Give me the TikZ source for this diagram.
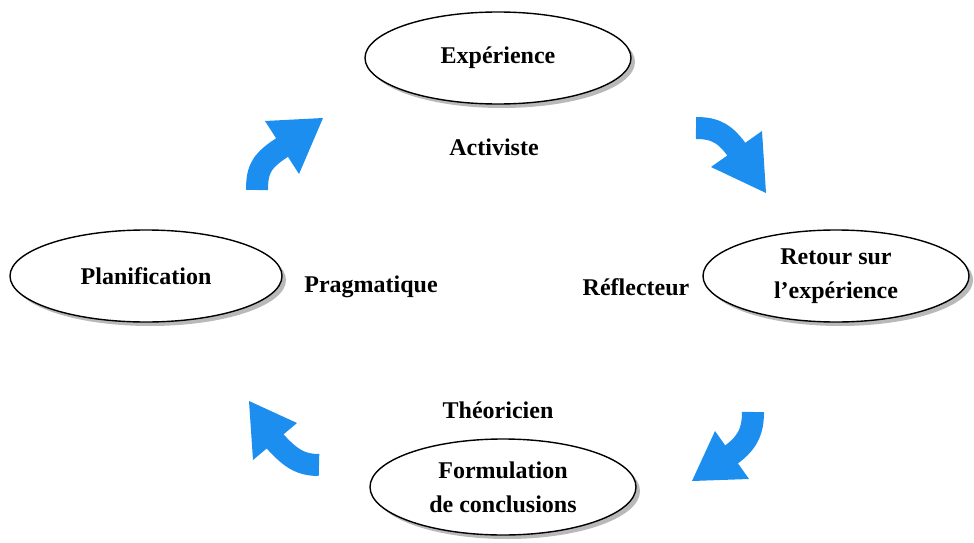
\documentclass[tikz,border=0pt]{standalone}
\usepackage{fontspec}
\setmainfont{Liberation Serif}
\usetikzlibrary{shapes.geometric,shadows}
\definecolor{cycleblue}{RGB}{28,142,240}
\begin{document}
\begin{tikzpicture}[x=1pt, y=-1pt,
  phase/.style={draw=black, line width=1.4pt, fill=white, ellipse, inner sep=0pt,
    minimum width=266pt, minimum height=92pt, align=center,
    drop shadow={shadow xshift=4pt, shadow yshift=-4pt, fill=black!55},
    font={\fontsize{24}{34}\selectfont\bfseries}},
  role/.style={font={\fontsize{24}{30}\selectfont\bfseries}},
  shaft/.style={draw=cycleblue, line width=22pt},
  head/.style={fill=cycleblue}]

\useasboundingbox (0,0) rectangle (974,543);

% the four phases
\node at (498,58) [phase] (exp) {Exp\'erience};
\node at (146,276) [phase, minimum width=272pt] (plan) {Planification};
\node at (836,276) [phase] (retour) {Retour sur\\l’exp\'erience};
\node at (503,487) [phase, minimum height=96pt] (form) {Formulation\\de conclusions};

% learner types
\node at (494,147) [role] (act) {Activiste};
\node at (371,287) [role] (prag) {Pragmatique};
\node at (636,287) [role] (refl) {R\'eflecteur};
\node at (498,410) [role] (theo) {Th\'eoricien};

% turning arrows: tail, base corners and tip of each head
\coordinate (tl-a) at (257,190);  \coordinate (tl-b) at (286,145);
\coordinate (tl-l) at (265,121);  \coordinate (tl-r) at (299,174);  \coordinate (tl-t) at (323,118);
\coordinate (tr-a) at (696,128);  \coordinate (tr-b) at (739,153);
\coordinate (tr-l) at (711,167);  \coordinate (tr-r) at (762,131);  \coordinate (tr-t) at (766,193);
\coordinate (br-a) at (753,412);  \coordinate (br-b) at (728,457);
\coordinate (br-l) at (715,431);  \coordinate (br-r) at (749,479);  \coordinate (br-t) at (692,481);
\coordinate (bl-a) at (319,465);  \coordinate (bl-b) at (272,438);
\coordinate (bl-l) at (253,460);  \coordinate (bl-r) at (297,423);  \coordinate (bl-t) at (249,401);

\draw [shaft] (tl-a) .. controls (257,168) and (262,160) .. (tl-b);
\fill [head] (tl-l) -- (tl-t) -- (tl-r) -- cycle;
\draw [shaft] (tr-a) .. controls (716,128) and (726,134) .. (tr-b);
\fill [head] (tr-l) -- (tr-t) -- (tr-r) -- cycle;
\draw [shaft] (br-a) .. controls (753,432) and (747,444) .. (br-b);
\fill [head] (br-l) -- (br-t) -- (br-r) -- cycle;
\draw [shaft] (bl-a) .. controls (299,465) and (289,457) .. (bl-b);
\fill [head] (bl-l) -- (bl-t) -- (bl-r) -- cycle;

\end{tikzpicture}
\end{document}
